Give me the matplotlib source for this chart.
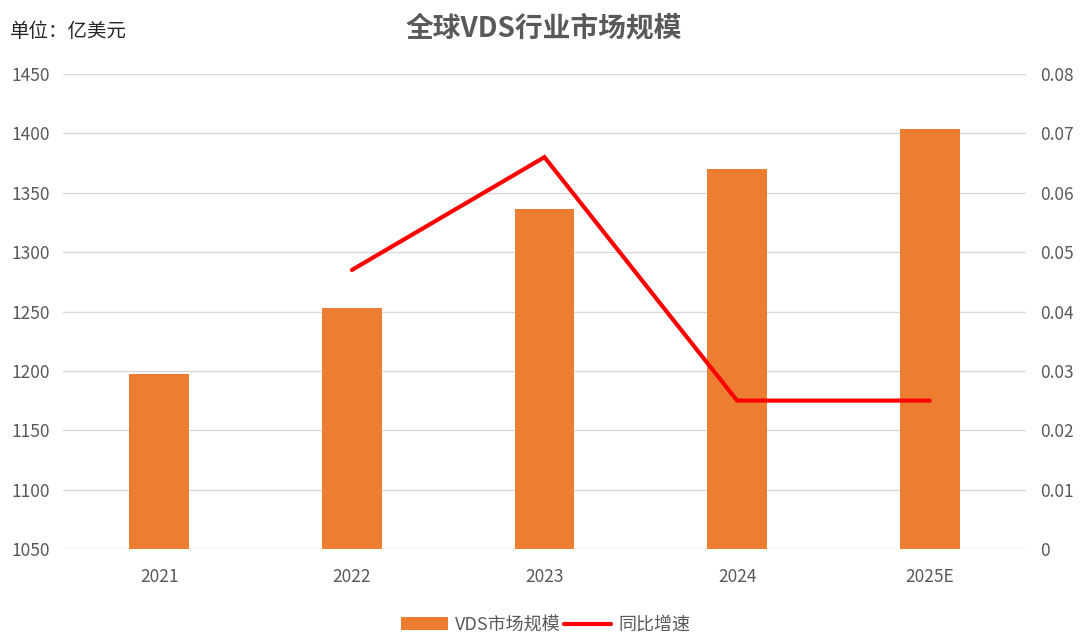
import matplotlib

matplotlib.use("Agg")
import matplotlib.pyplot as plt  # noqa: E402

plt.rcParams["font.family"] = ["Noto Sans CJK SC", "DejaVu Sans"]

# data
years = ["2021", "2022", "2023", "2024", "2025E"]
market_size = [1197, 1253, 1336, 1370, 1404]  # 亿美元
growth_years = ["2022", "2023", "2024", "2025E"]
growth = [0.047, 0.066, 0.025, 0.025]

left_ticks = [1050, 1100, 1150, 1200, 1250, 1300, 1350, 1400, 1450]
right_ticks = [0, 0.01, 0.02, 0.03, 0.04, 0.05, 0.06, 0.07, 0.08]

TEXT = "#595959"
GRID = "#D9D9D9"

fig = plt.figure(figsize=(10.8, 6.35), dpi=100)
ax = fig.add_axes([0.0583, 0.1354, 0.8917, 0.748])
ax2 = ax.twinx()

x = list(range(len(years)))
ax.bar(x, market_size, width=0.31, color="#ED7D31", label="VDS市场规模", zorder=2)
ax.set_ylim(1050, 1450)
ax.set_yticks(left_ticks)
ax.set_xlim(-0.5, len(years) - 0.5)
ax.set_xticks(x)
ax.set_xticklabels(years)
ax.grid(axis="y", color=GRID, linewidth=1, zorder=0)

gx = [years.index(y) for y in growth_years]
ax2.plot(gx, growth, color="#FF0000", linewidth=3, label="同比增速",
         solid_capstyle="round", solid_joinstyle="miter")
ax2.set_ylim(0, 0.08)
ax2.set_yticks(right_ticks)
ax2.set_yticklabels(["0"] + [f"{t:.2f}" for t in right_ticks[1:]])

for a in (ax, ax2):
    for s in a.spines.values():
        s.set_visible(False)
    a.tick_params(length=0, colors=TEXT, labelsize=12.5)
ax.tick_params(axis="y", pad=9)
ax2.tick_params(axis="y", pad=10)
ax.tick_params(axis="x", pad=14)

fig.text(0.503, 0.955, "全球VDS行业市场规模", ha="center", va="center",
         fontsize=20, fontweight="bold", color=TEXT)
fig.text(0.009, 0.95, "单位：亿美元", ha="left", va="center",
         fontsize=14, color="#262626")

h1, l1 = ax.get_legend_handles_labels()
h2, l2 = ax2.get_legend_handles_labels()
fig.legend(h1 + h2, l1 + l2, loc="center", bbox_to_anchor=(0.505, 0.016),
           ncol=2, frameon=False, fontsize=13, labelcolor=TEXT,
           handlelength=2.6, handletextpad=0.4, columnspacing=0.2)

fig.savefig("out.png", dpi=100)
